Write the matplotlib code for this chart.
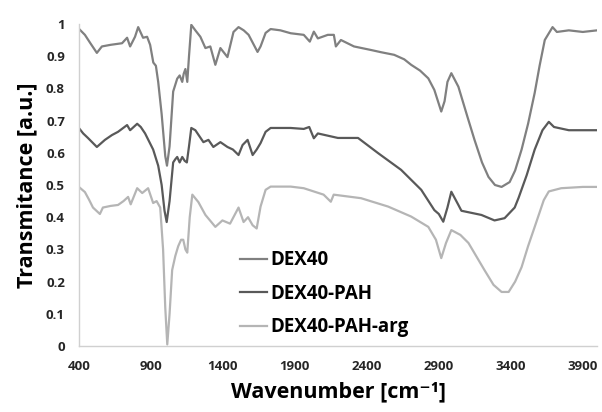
"""
FTIR spectra of DEX40 samples, redrawn.
"""
import numpy as np
import matplotlib
matplotlib.use("Agg")
import matplotlib.pyplot as plt

plt.rcParams["font.family"] = ["Open Sans", "DejaVu Sans"]

# DEX40
dex_wn = [400, 442, 480, 525, 560, 620, 700, 735, 756, 790, 812, 846, 874, 895,
          917, 935, 951, 975, 1000, 1012, 1030, 1055, 1083, 1100, 1118, 1128,
          1140, 1153, 1165, 1181, 1209, 1244, 1279, 1313, 1348, 1383, 1432, 1474,
          1509, 1545, 1579, 1641, 1662, 1697, 1732, 1800, 1871, 1962, 2004, 2032,
          2060, 2129, 2171, 2185, 2220, 2311, 2429, 2500, 2590, 2660, 2708, 2770,
          2827, 2869, 2917, 2940, 2960, 2987, 3036, 3100, 3148, 3200, 3245, 3290,
          3336, 3392, 3430, 3475, 3520, 3566, 3600, 3636, 3690, 3720, 3803, 3900,
          4000]
dex_t = [0.985, 0.966, 0.94, 0.91, 0.93, 0.935, 0.94, 0.957, 0.93, 0.96, 0.99,
         0.957, 0.96, 0.935, 0.88, 0.87, 0.82, 0.72, 0.59, 0.56, 0.62, 0.79, 0.83,
         0.84, 0.82, 0.845, 0.86, 0.82, 0.90, 0.997, 0.98, 0.96, 0.925, 0.93,
         0.873, 0.925, 0.897, 0.975, 0.99, 0.98, 0.966, 0.913, 0.93, 0.972, 0.984,
         0.98, 0.971, 0.966, 0.945, 0.976, 0.955, 0.966, 0.966, 0.93, 0.95, 0.93,
         0.919, 0.912, 0.904, 0.89, 0.873, 0.855, 0.831, 0.795, 0.728, 0.76, 0.82,
         0.847, 0.805, 0.71, 0.64, 0.57, 0.525, 0.50, 0.494, 0.509, 0.545, 0.61,
         0.69, 0.786, 0.87, 0.95, 0.99, 0.975, 0.98, 0.975, 0.98]

# DEX40-PAH
pah_wn = [400, 430, 463, 525, 581, 630, 672, 735, 756, 805, 830, 860, 916, 951,
          975, 995, 1010, 1030, 1055, 1070, 1083, 1100, 1118, 1135, 1150, 1165,
          1181, 1209, 1265, 1300, 1334, 1383, 1432, 1470, 1509, 1537, 1572, 1607,
          1635, 1662, 1697, 1732, 1871, 1962, 2000, 2032, 2060, 2199, 2339, 2478,
          2638, 2778, 2869, 2900, 2931, 2960, 2987, 3036, 3057, 3196, 3287, 3357,
          3427, 3454, 3510, 3566, 3620, 3664, 3700, 3803, 3900, 4000]
pah_t = [0.677, 0.66, 0.646, 0.618, 0.64, 0.655, 0.665, 0.686, 0.67, 0.69, 0.68,
         0.66, 0.61, 0.56, 0.50, 0.42, 0.385, 0.45, 0.57, 0.58, 0.587, 0.57,
         0.587, 0.575, 0.57, 0.62, 0.677, 0.67, 0.633, 0.64, 0.618, 0.633, 0.618,
         0.61, 0.593, 0.624, 0.64, 0.593, 0.61, 0.63, 0.665, 0.677, 0.677, 0.674,
         0.68, 0.645, 0.66, 0.646, 0.646, 0.599, 0.547, 0.485, 0.422, 0.41, 0.386,
         0.43, 0.479, 0.438, 0.42, 0.407, 0.39, 0.397, 0.43, 0.46, 0.53, 0.61,
         0.67, 0.696, 0.68, 0.67, 0.67, 0.67]

# DEX40-PAH-arg
arg_wn = [400, 442, 470, 498, 546, 567, 620, 672, 710, 742, 760, 805, 840, 881,
          916, 940, 965, 985, 1000, 1014, 1030, 1048, 1070, 1090, 1110, 1125,
          1140, 1153, 1170, 1188, 1230, 1279, 1348, 1397, 1450, 1509, 1544, 1575,
          1607, 1635, 1662, 1697, 1732, 1871, 1962, 2100, 2150, 2170, 2360, 2548,
          2708, 2827, 2880, 2917, 2950, 2987, 3050, 3106, 3217, 3280, 3336, 3385,
          3430, 3475, 3520, 3566, 3629, 3664, 3750, 3900, 4000]
arg_t = [0.494, 0.478, 0.455, 0.43, 0.41, 0.43, 0.435, 0.438, 0.45, 0.463, 0.44,
         0.49, 0.475, 0.49, 0.444, 0.45, 0.43, 0.30, 0.12, 0.005, 0.10, 0.236,
         0.28, 0.31, 0.33, 0.33, 0.30, 0.29, 0.40, 0.47, 0.447, 0.407, 0.37, 0.39,
         0.38, 0.43, 0.385, 0.40, 0.375, 0.365, 0.433, 0.485, 0.495, 0.495, 0.49,
         0.47, 0.448, 0.47, 0.459, 0.433, 0.402, 0.37, 0.33, 0.273, 0.32, 0.36,
         0.345, 0.32, 0.236, 0.19, 0.168, 0.168, 0.20, 0.245, 0.31, 0.37, 0.453,
         0.48, 0.49, 0.494, 0.494]

series = [
    ("DEX40", dex_wn, dex_t, "#808080"),
    ("DEX40-PAH", pah_wn, pah_t, "#595959"),
    ("DEX40-PAH-arg", arg_wn, arg_t, "#b5b5b5"),
]

fig = plt.figure(figsize=(6.02, 4.12), dpi=100)
ax = fig.add_axes([0.131, 0.160, 0.861, 0.782])

for name, wn, t, color in series:
    ax.plot(wn, t, color=color, lw=1.6, label=name, solid_joinstyle="round")

ax.set_xlim(400, 4000)
ax.set_ylim(0, 1)
ax.set_xticks(np.arange(400, 4000, 500))
ax.set_yticks(np.arange(0, 1.01, 0.1))
ax.set_yticklabels(["0", "0.1", "0.2", "0.3", "0.4", "0.5", "0.6", "0.7", "0.8",
                    "0.9", "1"])
ax.tick_params(length=0, labelsize=9.5, pad=10)
for lab in ax.get_xticklabels() + ax.get_yticklabels():
    lab.set_fontweight("bold")
    lab.set_color("#262626")

for side in ["top", "right"]:
    ax.spines[side].set_visible(False)
for side in ["left", "bottom"]:
    ax.spines[side].set_color("#d0d0d0")
    ax.spines[side].set_linewidth(1.0)

ax.set_ylabel("Transmitance [a.u.]", fontsize=15.5, fontweight="bold",
              labelpad=6)
ax.set_xlabel("Wavenumber [cm\u207b\u00b9]", fontsize=15.5, fontweight="bold",
              labelpad=6)

leg = ax.legend(loc="center left", bbox_to_anchor=(0.311, 0.163), frameon=False,
                fontsize=13.5, handlelength=1.45, handletextpad=0.15,
                labelspacing=0.72, borderpad=0, borderaxespad=0)
for txt in leg.get_texts():
    txt.set_fontweight("bold")

fig.savefig("out.png", dpi=100)
